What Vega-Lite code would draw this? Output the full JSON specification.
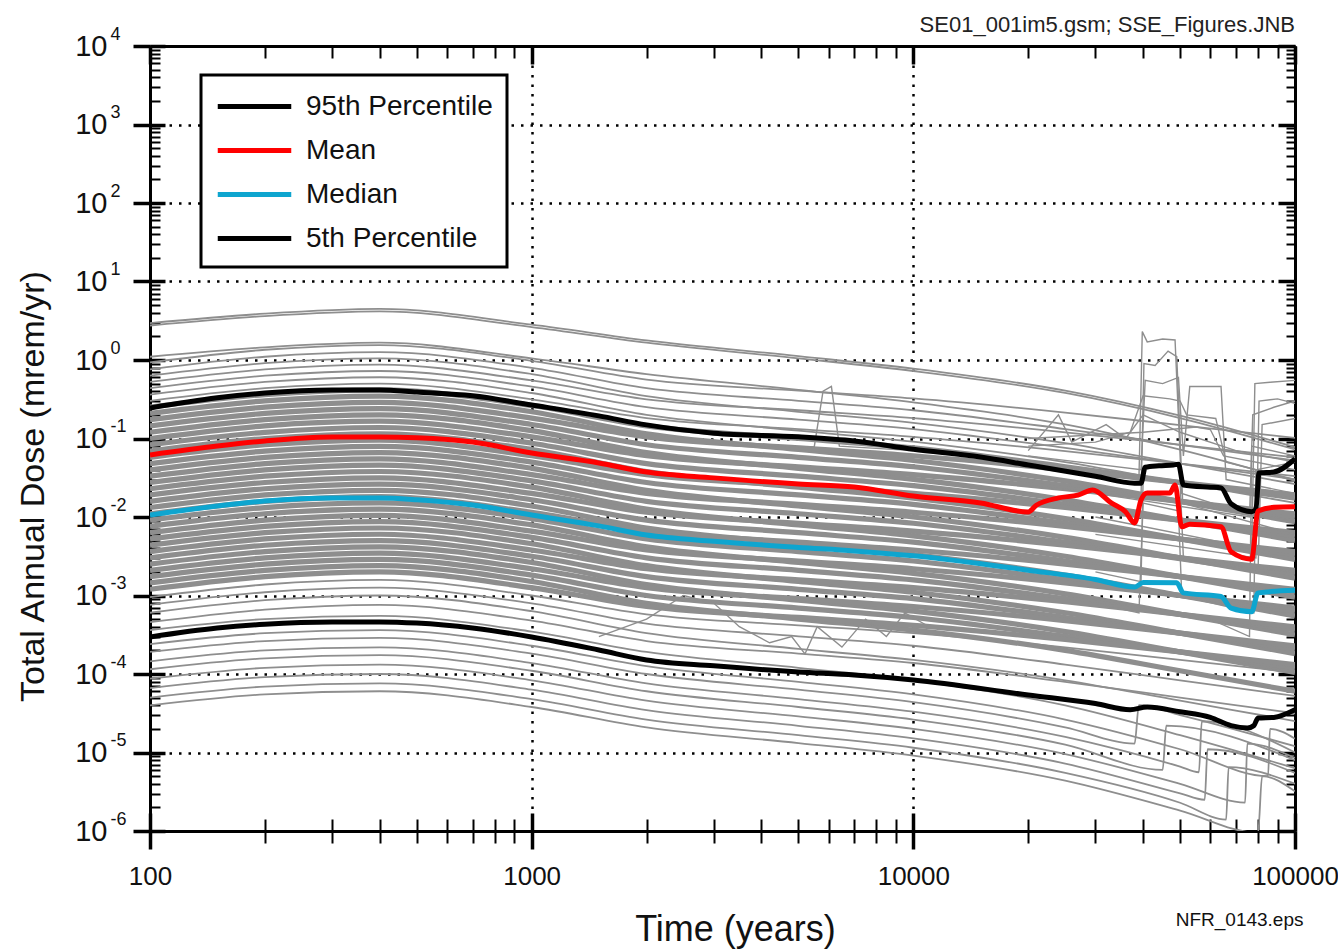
{
  "$schema": "https://vega.github.io/schema/vega-lite/v6.json",
  "autosize": {"type": "none"},
  "width": 1145,
  "height": 785,
  "padding": {"left": 150, "top": 46, "right": 43, "bottom": 120},
  "background": "white",
  "title": {"text": "SE01_001im5.gsm; SSE_Figures.JNB", "anchor": "end", "frame": "group", "fontSize": 22, "font": "Liberation Sans", "fontWeight": "normal", "color": "#222222", "offset": -29, "baseline": "alphabetic"},
  "config": {
    "view": {"stroke": null},
    "legend": {"strokeWidth": 3},
    "axis": {"labelFont": "Liberation Sans", "titleFont": "Liberation Sans", "zindex": 1, "domainColor": "black", "tickColor": "black", "labelColor": "#111111", "titleColor": "#111111", "titleFontWeight": "normal", "labelOverlap": false, "labelFlush": false}
  },
  "datasets": {
    "gray": [
      {"run":"g1","t":100,"dose":2.95},{"run":"g1","t":200,"dose":3.89},{"run":"g1","t":400,"dose":4.47},{"run":"g1","t":1000,"dose":2.82},{"run":"g1","t":2000,"dose":1.78},{"run":"g1","t":5000,"dose":1.12},{"run":"g1","t":10000,"dose":0.776},{"run":"g1","t":25000,"dose":0.407},{"run":"g1","t":50000,"dose":0.195},{"run":"g1","t":100000,"dose":0.0776},
      {"run":"g2","t":100,"dose":2.75},{"run":"g2","t":200,"dose":3.63},{"run":"g2","t":400,"dose":4.17},{"run":"g2","t":1000,"dose":2.63},{"run":"g2","t":2000,"dose":1.66},{"run":"g2","t":5000,"dose":1.05},{"run":"g2","t":10000,"dose":0.724},{"run":"g2","t":25000,"dose":0.38},{"run":"g2","t":50000,"dose":0.182},{"run":"g2","t":100000,"dose":0.0724},
      {"run":"g3","t":100,"dose":1.10},{"run":"g3","t":200,"dose":1.45},{"run":"g3","t":400,"dose":1.66},{"run":"g3","t":1000,"dose":1.05},{"run":"g3","t":2000,"dose":0.661},{"run":"g3","t":5000,"dose":0.417},{"run":"g3","t":10000,"dose":0.288},{"run":"g3","t":25000,"dose":0.151},{"run":"g3","t":50000,"dose":0.0724},{"run":"g3","t":100000,"dose":0.0288},
      {"run":"g4","t":100,"dose":0.933},{"run":"g4","t":200,"dose":1.35},{"run":"g4","t":400,"dose":1.55},{"run":"g4","t":1000,"dose":0.977},{"run":"g4","t":2000,"dose":0.562},{"run":"g4","t":5000,"dose":0.407},{"run":"g4","t":10000,"dose":0.324},{"run":"g4","t":25000,"dose":0.214},{"run":"g4","t":50000,"dose":0.148},{"run":"g4","t":100000,"dose":0.102},
      {"run":"d1","t":100,"dose":0.759},{"run":"d1","t":200,"dose":1.10},{"run":"d1","t":400,"dose":1.26},{"run":"d1","t":1000,"dose":0.794},{"run":"d1","t":2000,"dose":0.437},{"run":"d1","t":5000,"dose":0.302},{"run":"d1","t":10000,"dose":0.229},{"run":"d1","t":25000,"dose":0.132},{"run":"d1","t":50000,"dose":0.0832},{"run":"d1","t":100000,"dose":0.0525},
      {"run":"d2","t":100,"dose":0.631},{"run":"d2","t":200,"dose":0.912},{"run":"d2","t":400,"dose":1.05},{"run":"d2","t":1000,"dose":0.661},{"run":"d2","t":2000,"dose":0.347},{"run":"d2","t":5000,"dose":0.219},{"run":"d2","t":10000,"dose":0.158},{"run":"d2","t":25000,"dose":0.0871},{"run":"d2","t":50000,"dose":0.0479},{"run":"d2","t":100000,"dose":0.0263},
      {"run":"d3","t":100,"dose":0.525},{"run":"d3","t":200,"dose":0.759},{"run":"d3","t":400,"dose":0.871},{"run":"d3","t":1000,"dose":0.550},{"run":"d3","t":2000,"dose":0.316},{"run":"d3","t":5000,"dose":0.229},{"run":"d3","t":10000,"dose":0.182},{"run":"d3","t":25000,"dose":0.120},{"run":"d3","t":50000,"dose":0.0832},{"run":"d3","t":100000,"dose":0.0575},
      {"run":"d4","t":100,"dose":0.437},{"run":"d4","t":200,"dose":0.631},{"run":"d4","t":400,"dose":0.724},{"run":"d4","t":1000,"dose":0.457},{"run":"d4","t":2000,"dose":0.251},{"run":"d4","t":5000,"dose":0.174},{"run":"d4","t":10000,"dose":0.132},{"run":"d4","t":25000,"dose":0.0759},{"run":"d4","t":50000,"dose":0.0479},{"run":"d4","t":100000,"dose":0.0302},
      {"run":"d5","t":100,"dose":0.363},{"run":"d5","t":200,"dose":0.525},{"run":"d5","t":400,"dose":0.603},{"run":"d5","t":1000,"dose":0.380},{"run":"d5","t":2000,"dose":0.200},{"run":"d5","t":5000,"dose":0.126},{"run":"d5","t":10000,"dose":0.0912},{"run":"d5","t":25000,"dose":0.0501},{"run":"d5","t":50000,"dose":0.0275},{"run":"d5","t":100000,"dose":0.0151},
      {"run":"d6","t":100,"dose":0.302},{"run":"d6","t":200,"dose":0.437},{"run":"d6","t":400,"dose":0.501},{"run":"d6","t":1000,"dose":0.316},{"run":"d6","t":2000,"dose":0.182},{"run":"d6","t":5000,"dose":0.132},{"run":"d6","t":10000,"dose":0.105},{"run":"d6","t":25000,"dose":0.0692},{"run":"d6","t":50000,"dose":0.0479},{"run":"d6","t":100000,"dose":0.0331},
      {"run":"d7","t":100,"dose":0.251},{"run":"d7","t":200,"dose":0.363},{"run":"d7","t":400,"dose":0.417},{"run":"d7","t":1000,"dose":0.263},{"run":"d7","t":2000,"dose":0.145},{"run":"d7","t":5000,"dose":0.100},{"run":"d7","t":10000,"dose":0.0759},{"run":"d7","t":25000,"dose":0.0437},{"run":"d7","t":50000,"dose":0.0275},{"run":"d7","t":100000,"dose":0.0174},
      {"run":"d8","t":100,"dose":0.209},{"run":"d8","t":200,"dose":0.302},{"run":"d8","t":400,"dose":0.347},{"run":"d8","t":1000,"dose":0.219},{"run":"d8","t":2000,"dose":0.115},{"run":"d8","t":5000,"dose":0.0724},{"run":"d8","t":10000,"dose":0.0525},{"run":"d8","t":25000,"dose":0.0288},{"run":"d8","t":50000,"dose":0.0158},{"run":"d8","t":100000,"dose":0.00871},
      {"run":"d9","t":100,"dose":0.174},{"run":"d9","t":200,"dose":0.251},{"run":"d9","t":400,"dose":0.288},{"run":"d9","t":1000,"dose":0.182},{"run":"d9","t":2000,"dose":0.105},{"run":"d9","t":5000,"dose":0.0759},{"run":"d9","t":10000,"dose":0.0603},{"run":"d9","t":25000,"dose":0.0398},{"run":"d9","t":50000,"dose":0.0275},{"run":"d9","t":100000,"dose":0.0191},
      {"run":"d10","t":100,"dose":0.145},{"run":"d10","t":200,"dose":0.209},{"run":"d10","t":400,"dose":0.240},{"run":"d10","t":1000,"dose":0.151},{"run":"d10","t":2000,"dose":0.0832},{"run":"d10","t":5000,"dose":0.0575},{"run":"d10","t":10000,"dose":0.0437},{"run":"d10","t":25000,"dose":0.0251},{"run":"d10","t":50000,"dose":0.0158},{"run":"d10","t":100000,"dose":0.0100},
      {"run":"d11","t":100,"dose":0.120},{"run":"d11","t":200,"dose":0.174},{"run":"d11","t":400,"dose":0.200},{"run":"d11","t":1000,"dose":0.126},{"run":"d11","t":2000,"dose":0.0661},{"run":"d11","t":5000,"dose":0.0417},{"run":"d11","t":10000,"dose":0.0302},{"run":"d11","t":25000,"dose":0.0166},{"run":"d11","t":50000,"dose":0.00912},{"run":"d11","t":100000,"dose":0.00501},
      {"run":"d12","t":100,"dose":0.100},{"run":"d12","t":200,"dose":0.145},{"run":"d12","t":400,"dose":0.166},{"run":"d12","t":1000,"dose":0.105},{"run":"d12","t":2000,"dose":0.0603},{"run":"d12","t":5000,"dose":0.0437},{"run":"d12","t":10000,"dose":0.0347},{"run":"d12","t":25000,"dose":0.0229},{"run":"d12","t":50000,"dose":0.0158},{"run":"d12","t":100000,"dose":0.0110},
      {"run":"d13","t":100,"dose":0.0832},{"run":"d13","t":200,"dose":0.120},{"run":"d13","t":400,"dose":0.138},{"run":"d13","t":1000,"dose":0.0871},{"run":"d13","t":2000,"dose":0.0479},{"run":"d13","t":5000,"dose":0.0331},{"run":"d13","t":10000,"dose":0.0251},{"run":"d13","t":25000,"dose":0.0145},{"run":"d13","t":50000,"dose":0.00912},{"run":"d13","t":100000,"dose":0.00575},
      {"run":"d14","t":100,"dose":0.0692},{"run":"d14","t":200,"dose":0.100},{"run":"d14","t":400,"dose":0.115},{"run":"d14","t":1000,"dose":0.0724},{"run":"d14","t":2000,"dose":0.0380},{"run":"d14","t":5000,"dose":0.0240},{"run":"d14","t":10000,"dose":0.0174},{"run":"d14","t":25000,"dose":0.00955},{"run":"d14","t":50000,"dose":0.00525},{"run":"d14","t":100000,"dose":0.00288},
      {"run":"d15","t":100,"dose":0.0575},{"run":"d15","t":200,"dose":0.0832},{"run":"d15","t":400,"dose":0.0955},{"run":"d15","t":1000,"dose":0.0603},{"run":"d15","t":2000,"dose":0.0347},{"run":"d15","t":5000,"dose":0.0251},{"run":"d15","t":10000,"dose":0.0200},{"run":"d15","t":25000,"dose":0.0132},{"run":"d15","t":50000,"dose":0.00912},{"run":"d15","t":100000,"dose":0.00631},
      {"run":"d16","t":100,"dose":0.0479},{"run":"d16","t":200,"dose":0.0692},{"run":"d16","t":400,"dose":0.0794},{"run":"d16","t":1000,"dose":0.0501},{"run":"d16","t":2000,"dose":0.0275},{"run":"d16","t":5000,"dose":0.0191},{"run":"d16","t":10000,"dose":0.0145},{"run":"d16","t":25000,"dose":0.00832},{"run":"d16","t":50000,"dose":0.00525},{"run":"d16","t":100000,"dose":0.00331},
      {"run":"d17","t":100,"dose":0.0398},{"run":"d17","t":200,"dose":0.0575},{"run":"d17","t":400,"dose":0.0661},{"run":"d17","t":1000,"dose":0.0417},{"run":"d17","t":2000,"dose":0.0219},{"run":"d17","t":5000,"dose":0.0138},{"run":"d17","t":10000,"dose":0.0100},{"run":"d17","t":25000,"dose":0.00550},{"run":"d17","t":50000,"dose":0.00302},{"run":"d17","t":100000,"dose":0.00166},
      {"run":"d18","t":100,"dose":0.0331},{"run":"d18","t":200,"dose":0.0479},{"run":"d18","t":400,"dose":0.0550},{"run":"d18","t":1000,"dose":0.0347},{"run":"d18","t":2000,"dose":0.0200},{"run":"d18","t":5000,"dose":0.0145},{"run":"d18","t":10000,"dose":0.0115},{"run":"d18","t":25000,"dose":0.00759},{"run":"d18","t":50000,"dose":0.00525},{"run":"d18","t":100000,"dose":0.00363},
      {"run":"d19","t":100,"dose":0.0275},{"run":"d19","t":200,"dose":0.0398},{"run":"d19","t":400,"dose":0.0457},{"run":"d19","t":1000,"dose":0.0288},{"run":"d19","t":2000,"dose":0.0158},{"run":"d19","t":5000,"dose":0.0110},{"run":"d19","t":10000,"dose":0.00832},{"run":"d19","t":25000,"dose":0.00479},{"run":"d19","t":50000,"dose":0.00302},{"run":"d19","t":100000,"dose":0.00191},
      {"run":"d20","t":100,"dose":0.0229},{"run":"d20","t":200,"dose":0.0331},{"run":"d20","t":400,"dose":0.0380},{"run":"d20","t":1000,"dose":0.0240},{"run":"d20","t":2000,"dose":0.0126},{"run":"d20","t":5000,"dose":0.00794},{"run":"d20","t":10000,"dose":0.00575},{"run":"d20","t":25000,"dose":0.00316},{"run":"d20","t":50000,"dose":0.00174},{"run":"d20","t":100000,"dose":0.000955},
      {"run":"d21","t":100,"dose":0.0191},{"run":"d21","t":200,"dose":0.0275},{"run":"d21","t":400,"dose":0.0316},{"run":"d21","t":1000,"dose":0.0200},{"run":"d21","t":2000,"dose":0.0115},{"run":"d21","t":5000,"dose":0.00832},{"run":"d21","t":10000,"dose":0.00661},{"run":"d21","t":25000,"dose":0.00437},{"run":"d21","t":50000,"dose":0.00302},{"run":"d21","t":100000,"dose":0.00209},
      {"run":"d22","t":100,"dose":0.0158},{"run":"d22","t":200,"dose":0.0229},{"run":"d22","t":400,"dose":0.0263},{"run":"d22","t":1000,"dose":0.0166},{"run":"d22","t":2000,"dose":0.00912},{"run":"d22","t":5000,"dose":0.00631},{"run":"d22","t":10000,"dose":0.00479},{"run":"d22","t":25000,"dose":0.00275},{"run":"d22","t":50000,"dose":0.00174},{"run":"d22","t":100000,"dose":0.00110},
      {"run":"d23","t":100,"dose":0.0132},{"run":"d23","t":200,"dose":0.0191},{"run":"d23","t":400,"dose":0.0219},{"run":"d23","t":1000,"dose":0.0138},{"run":"d23","t":2000,"dose":0.00724},{"run":"d23","t":5000,"dose":0.00457},{"run":"d23","t":10000,"dose":0.00331},{"run":"d23","t":25000,"dose":0.00182},{"run":"d23","t":50000,"dose":0.00100},{"run":"d23","t":100000,"dose":0.000550},
      {"run":"d24","t":100,"dose":0.0110},{"run":"d24","t":200,"dose":0.0158},{"run":"d24","t":400,"dose":0.0182},{"run":"d24","t":1000,"dose":0.0115},{"run":"d24","t":2000,"dose":0.00661},{"run":"d24","t":5000,"dose":0.00479},{"run":"d24","t":10000,"dose":0.00380},{"run":"d24","t":25000,"dose":0.00251},{"run":"d24","t":50000,"dose":0.00174},{"run":"d24","t":100000,"dose":0.00120},
      {"run":"d25","t":100,"dose":0.00912},{"run":"d25","t":200,"dose":0.0132},{"run":"d25","t":400,"dose":0.0151},{"run":"d25","t":1000,"dose":0.00955},{"run":"d25","t":2000,"dose":0.00525},{"run":"d25","t":5000,"dose":0.00363},{"run":"d25","t":10000,"dose":0.00275},{"run":"d25","t":25000,"dose":0.00158},{"run":"d25","t":50000,"dose":0.00100},{"run":"d25","t":100000,"dose":0.000631},
      {"run":"d26","t":100,"dose":0.00759},{"run":"d26","t":200,"dose":0.0110},{"run":"d26","t":400,"dose":0.0126},{"run":"d26","t":1000,"dose":0.00794},{"run":"d26","t":2000,"dose":0.00417},{"run":"d26","t":5000,"dose":0.00263},{"run":"d26","t":10000,"dose":0.00191},{"run":"d26","t":25000,"dose":0.00105},{"run":"d26","t":50000,"dose":0.000575},{"run":"d26","t":100000,"dose":0.000316},
      {"run":"d27","t":100,"dose":0.00631},{"run":"d27","t":200,"dose":0.00912},{"run":"d27","t":400,"dose":0.0105},{"run":"d27","t":1000,"dose":0.00661},{"run":"d27","t":2000,"dose":0.00380},{"run":"d27","t":5000,"dose":0.00275},{"run":"d27","t":10000,"dose":0.00219},{"run":"d27","t":25000,"dose":0.00145},{"run":"d27","t":50000,"dose":0.00100},{"run":"d27","t":100000,"dose":0.000692},
      {"run":"d28","t":100,"dose":0.00525},{"run":"d28","t":200,"dose":0.00759},{"run":"d28","t":400,"dose":0.00871},{"run":"d28","t":1000,"dose":0.00550},{"run":"d28","t":2000,"dose":0.00302},{"run":"d28","t":5000,"dose":0.00209},{"run":"d28","t":10000,"dose":0.00158},{"run":"d28","t":25000,"dose":0.000912},{"run":"d28","t":50000,"dose":0.000575},{"run":"d28","t":100000,"dose":0.000363},
      {"run":"d29","t":100,"dose":0.00437},{"run":"d29","t":200,"dose":0.00631},{"run":"d29","t":400,"dose":0.00724},{"run":"d29","t":1000,"dose":0.00457},{"run":"d29","t":2000,"dose":0.00240},{"run":"d29","t":5000,"dose":0.00151},{"run":"d29","t":10000,"dose":0.00110},{"run":"d29","t":25000,"dose":0.000603},{"run":"d29","t":50000,"dose":0.000331},{"run":"d29","t":100000,"dose":0.000182},
      {"run":"d30","t":100,"dose":0.00363},{"run":"d30","t":200,"dose":0.00525},{"run":"d30","t":400,"dose":0.00603},{"run":"d30","t":1000,"dose":0.00380},{"run":"d30","t":2000,"dose":0.00219},{"run":"d30","t":5000,"dose":0.00158},{"run":"d30","t":10000,"dose":0.00126},{"run":"d30","t":25000,"dose":0.000832},{"run":"d30","t":50000,"dose":0.000575},{"run":"d30","t":100000,"dose":0.000398},
      {"run":"d31","t":100,"dose":0.00302},{"run":"d31","t":200,"dose":0.00437},{"run":"d31","t":400,"dose":0.00501},{"run":"d31","t":1000,"dose":0.00316},{"run":"d31","t":2000,"dose":0.00174},{"run":"d31","t":5000,"dose":0.00120},{"run":"d31","t":10000,"dose":0.000912},{"run":"d31","t":25000,"dose":0.000525},{"run":"d31","t":50000,"dose":0.000331},{"run":"d31","t":100000,"dose":0.000209},
      {"run":"d32","t":100,"dose":0.00251},{"run":"d32","t":200,"dose":0.00363},{"run":"d32","t":400,"dose":0.00417},{"run":"d32","t":1000,"dose":0.00263},{"run":"d32","t":2000,"dose":0.00138},{"run":"d32","t":5000,"dose":0.000871},{"run":"d32","t":10000,"dose":0.000631},{"run":"d32","t":25000,"dose":0.000347},{"run":"d32","t":50000,"dose":0.000191},{"run":"d32","t":100000,"dose":0.000105},
      {"run":"d33","t":100,"dose":0.00209},{"run":"d33","t":200,"dose":0.00302},{"run":"d33","t":400,"dose":0.00347},{"run":"d33","t":1000,"dose":0.00219},{"run":"d33","t":2000,"dose":0.00126},{"run":"d33","t":5000,"dose":0.000912},{"run":"d33","t":10000,"dose":0.000724},{"run":"d33","t":25000,"dose":0.000479},{"run":"d33","t":50000,"dose":0.000331},{"run":"d33","t":100000,"dose":0.000229},
      {"run":"d34","t":100,"dose":0.00174},{"run":"d34","t":200,"dose":0.00251},{"run":"d34","t":400,"dose":0.00288},{"run":"d34","t":1000,"dose":0.00182},{"run":"d34","t":2000,"dose":0.00100},{"run":"d34","t":5000,"dose":0.000692},{"run":"d34","t":10000,"dose":0.000525},{"run":"d34","t":25000,"dose":0.000302},{"run":"d34","t":50000,"dose":0.000191},{"run":"d34","t":100000,"dose":0.000120},
      {"run":"d35","t":100,"dose":0.00145},{"run":"d35","t":200,"dose":0.00209},{"run":"d35","t":400,"dose":0.00240},{"run":"d35","t":1000,"dose":0.00151},{"run":"d35","t":2000,"dose":0.000794},{"run":"d35","t":5000,"dose":0.000501},{"run":"d35","t":10000,"dose":0.000363},{"run":"d35","t":25000,"dose":0.000200},{"run":"d35","t":50000,"dose":0.000110},{"run":"d35","t":100000,"dose":0.0000603},
      {"run":"d36","t":100,"dose":0.00120},{"run":"d36","t":200,"dose":0.00174},{"run":"d36","t":400,"dose":0.00200},{"run":"d36","t":1000,"dose":0.00126},{"run":"d36","t":2000,"dose":0.000724},{"run":"d36","t":5000,"dose":0.000525},{"run":"d36","t":10000,"dose":0.000417},{"run":"d36","t":25000,"dose":0.000275},{"run":"d36","t":50000,"dose":0.000191},{"run":"d36","t":100000,"dose":0.000132},
      {"run":"l1","t":100,"dose":9.55e-4},{"run":"l1","t":200,"dose":1.38e-3},{"run":"l1","t":400,"dose":1.58e-3},{"run":"l1","t":1000,"dose":1.00e-3},{"run":"l1","t":2000,"dose":5.75e-4},{"run":"l1","t":5000,"dose":4.17e-4},{"run":"l1","t":10000,"dose":3.31e-4},{"run":"l1","t":25000,"dose":2.19e-4},{"run":"l1","t":50000,"dose":1.51e-4},{"run":"l1","t":100000,"dose":1.05e-4},
      {"run":"l2","t":100,"dose":7.59e-4},{"run":"l2","t":200,"dose":1.10e-3},{"run":"l2","t":400,"dose":1.26e-3},{"run":"l2","t":1000,"dose":7.94e-4},{"run":"l2","t":2000,"dose":4.37e-4},{"run":"l2","t":5000,"dose":3.02e-4},{"run":"l2","t":10000,"dose":2.29e-4},{"run":"l2","t":25000,"dose":1.32e-4},{"run":"l2","t":50000,"dose":8.32e-5},{"run":"l2","t":100000,"dose":5.25e-5},
      {"run":"l3","t":100,"dose":6.03e-4},{"run":"l3","t":200,"dose":8.71e-4},{"run":"l3","t":400,"dose":1.00e-3},{"run":"l3","t":1000,"dose":6.31e-4},{"run":"l3","t":2000,"dose":3.31e-4},{"run":"l3","t":5000,"dose":2.09e-4},{"run":"l3","t":10000,"dose":1.51e-4},{"run":"l3","t":25000,"dose":8.32e-5},{"run":"l3","t":50000,"dose":4.57e-5},{"run":"l3","t":100000,"dose":2.51e-5},
      {"run":"l4","t":100,"dose":4.57e-4},{"run":"l4","t":200,"dose":6.61e-4},{"run":"l4","t":400,"dose":7.59e-4},{"run":"l4","t":1000,"dose":4.79e-4},{"run":"l4","t":2000,"dose":2.63e-4},{"run":"l4","t":5000,"dose":1.82e-4},{"run":"l4","t":10000,"dose":1.38e-4},{"run":"l4","t":25000,"dose":7.94e-5},{"run":"l4","t":50000,"dose":5.01e-5},{"run":"l4","t":100000,"dose":3.16e-5},
      {"run":"l5","t":100,"dose":3.63e-4},{"run":"l5","t":200,"dose":5.01e-4},{"run":"l5","t":400,"dose":5.50e-4},{"run":"l5","t":1000,"dose":3.47e-4},{"run":"l5","t":2000,"dose":1.91e-4},{"run":"l5","t":5000,"dose":1.20e-4},{"run":"l5","t":10000,"dose":8.32e-5},{"run":"l5","t":25000,"dose":3.98e-5},{"run":"l5","t":50000,"dose":1.66e-5},{"run":"l5","t":100000,"dose":6.31e-6},
      {"run":"l6","t":100,"dose":2.40e-4},{"run":"l6","t":200,"dose":3.31e-4},{"run":"l6","t":400,"dose":3.63e-4},{"run":"l6","t":1000,"dose":2.29e-4},{"run":"l6","t":2000,"dose":1.26e-4},{"run":"l6","t":5000,"dose":7.94e-5},{"run":"l6","t":10000,"dose":5.50e-5},{"run":"l6","t":25000,"dose":2.63e-5},{"run":"l6","t":50000,"dose":1.10e-5},{"run":"l6","t":85000,"dose":5.0e-6},{"run":"l6","t":86000,"dose":2.0e-5},{"run":"l6","t":100000,"dose":1.5e-5},
      {"run":"l7","t":100,"dose":1.91e-4},{"run":"l7","t":200,"dose":2.63e-4},{"run":"l7","t":400,"dose":2.88e-4},{"run":"l7","t":1000,"dose":1.82e-4},{"run":"l7","t":2000,"dose":1.00e-4},{"run":"l7","t":5000,"dose":6.31e-5},{"run":"l7","t":10000,"dose":4.37e-5},{"run":"l7","t":25000,"dose":2.09e-5},{"run":"l7","t":38000,"dose":1.3e-5},{"run":"l7","t":39000,"dose":4.0e-5},{"run":"l7","t":50000,"dose":3.0e-5},{"run":"l7","t":100000,"dose":1.2e-5},
      {"run":"l8","t":100,"dose":1.45e-4},{"run":"l8","t":200,"dose":2.00e-4},{"run":"l8","t":400,"dose":2.19e-4},{"run":"l8","t":1000,"dose":1.38e-4},{"run":"l8","t":2000,"dose":7.59e-5},{"run":"l8","t":5000,"dose":4.79e-5},{"run":"l8","t":10000,"dose":3.31e-5},{"run":"l8","t":25000,"dose":1.58e-5},{"run":"l8","t":50000,"dose":6.61e-6},{"run":"l8","t":56000,"dose":5.6e-6},{"run":"l8","t":57000,"dose":2.5e-5},{"run":"l8","t":100000,"dose":1.0e-5},
      {"run":"l9","t":100,"dose":1.15e-4},{"run":"l9","t":200,"dose":1.58e-4},{"run":"l9","t":400,"dose":1.74e-4},{"run":"l9","t":1000,"dose":1.10e-4},{"run":"l9","t":2000,"dose":6.03e-5},{"run":"l9","t":5000,"dose":3.80e-5},{"run":"l9","t":10000,"dose":2.63e-5},{"run":"l9","t":25000,"dose":1.26e-5},{"run":"l9","t":45000,"dose":6.0e-6},{"run":"l9","t":46000,"dose":2.2e-5},{"run":"l9","t":100000,"dose":8.0e-6},
      {"run":"l10","t":100,"dose":8.71e-5},{"run":"l10","t":200,"dose":1.20e-4},{"run":"l10","t":400,"dose":1.32e-4},{"run":"l10","t":1000,"dose":8.32e-5},{"run":"l10","t":2000,"dose":4.57e-5},{"run":"l10","t":5000,"dose":2.88e-5},{"run":"l10","t":10000,"dose":2.00e-5},{"run":"l10","t":25000,"dose":9.55e-6},{"run":"l10","t":50000,"dose":3.98e-6},{"run":"l10","t":74000,"dose":2.3e-6},{"run":"l10","t":75000,"dose":1.3e-5},{"run":"l10","t":100000,"dose":8.5e-6},
      {"run":"l11","t":100,"dose":6.61e-5},{"run":"l11","t":200,"dose":9.12e-5},{"run":"l11","t":400,"dose":1.00e-4},{"run":"l11","t":1000,"dose":6.31e-5},{"run":"l11","t":2000,"dose":3.47e-5},{"run":"l11","t":5000,"dose":2.19e-5},{"run":"l11","t":10000,"dose":1.51e-5},{"run":"l11","t":25000,"dose":7.24e-6},{"run":"l11","t":50000,"dose":3.02e-6},{"run":"l11","t":58000,"dose":2.5e-6},{"run":"l11","t":59000,"dose":1.1e-5},{"run":"l11","t":100000,"dose":5.5e-6},
      {"run":"l12","t":100,"dose":5.01e-5},{"run":"l12","t":200,"dose":6.92e-5},{"run":"l12","t":400,"dose":7.59e-5},{"run":"l12","t":1000,"dose":4.79e-5},{"run":"l12","t":2000,"dose":2.63e-5},{"run":"l12","t":5000,"dose":1.66e-5},{"run":"l12","t":10000,"dose":1.15e-5},{"run":"l12","t":25000,"dose":5.50e-6},{"run":"l12","t":50000,"dose":2.29e-6},{"run":"l12","t":66000,"dose":1.4e-6},{"run":"l12","t":67000,"dose":6.5e-6},{"run":"l12","t":100000,"dose":4.0e-6},
      {"run":"l13","t":100,"dose":3.98e-5},{"run":"l13","t":200,"dose":5.50e-5},{"run":"l13","t":400,"dose":6.03e-5},{"run":"l13","t":1000,"dose":3.80e-5},{"run":"l13","t":2000,"dose":2.09e-5},{"run":"l13","t":5000,"dose":1.32e-5},{"run":"l13","t":10000,"dose":9.12e-6},{"run":"l13","t":25000,"dose":4.37e-6},{"run":"l13","t":50000,"dose":1.82e-6},{"run":"l13","t":80000,"dose":9.5e-7},{"run":"l13","t":82000,"dose":5.0e-6},{"run":"l13","t":100000,"dose":3.2e-6}
    ],
    "spiky": [
      {"run":"s1","t":20000,"dose":0.045},{"run":"s1","t":39000,"dose":0.03},{"run":"s1","t":39800,"dose":2.3},{"run":"s1","t":41000,"dose":1.7},{"run":"s1","t":45000,"dose":1.85},{"run":"s1","t":48500,"dose":1.8},{"run":"s1","t":50500,"dose":0.02},{"run":"s1","t":70000,"dose":0.012},{"run":"s1","t":100000,"dose":0.009},
      {"run":"s2","t":20000,"dose":0.025},{"run":"s2","t":39500,"dose":0.018},{"run":"s2","t":40200,"dose":0.9},{"run":"s2","t":43000,"dose":0.85},{"run":"s2","t":46500,"dose":1.3},{"run":"s2","t":49000,"dose":1.1},{"run":"s2","t":50800,"dose":0.015},{"run":"s2","t":100000,"dose":0.006},
      {"run":"s3","t":20000,"dose":0.06},{"run":"s3","t":39500,"dose":0.04},{"run":"s3","t":40500,"dose":0.55},{"run":"s3","t":45000,"dose":0.5},{"run":"s3","t":49500,"dose":0.6},{"run":"s3","t":51000,"dose":0.06},{"run":"s3","t":53000,"dose":0.46},{"run":"s3","t":64000,"dose":0.46},{"run":"s3","t":66000,"dose":0.03},{"run":"s3","t":100000,"dose":0.02},
      {"run":"s4","t":20000,"dose":0.08},{"run":"s4","t":30000,"dose":0.09},{"run":"s4","t":37000,"dose":0.12},{"run":"s4","t":40000,"dose":0.35},{"run":"s4","t":47000,"dose":0.32},{"run":"s4","t":50000,"dose":0.3},{"run":"s4","t":52000,"dose":0.2},{"run":"s4","t":62000,"dose":0.18},{"run":"s4","t":66000,"dose":0.05},{"run":"s4","t":100000,"dose":0.03},
      {"run":"s5","t":30000,"dose":0.01},{"run":"s5","t":77000,"dose":0.004},{"run":"s5","t":78500,"dose":0.5},{"run":"s5","t":86000,"dose":0.52},{"run":"s5","t":100000,"dose":0.55},
      {"run":"s6","t":30000,"dose":0.006},{"run":"s6","t":79000,"dose":0.003},{"run":"s6","t":80500,"dose":0.3},{"run":"s6","t":90000,"dose":0.32},{"run":"s6","t":100000,"dose":0.28},
      {"run":"s7","t":30000,"dose":0.02},{"run":"s7","t":76000,"dose":0.01},{"run":"s7","t":77500,"dose":0.2},{"run":"s7","t":88000,"dose":0.25},{"run":"s7","t":100000,"dose":0.3},
      {"run":"s8","t":30000,"dose":0.004},{"run":"s8","t":80000,"dose":0.002},{"run":"s8","t":82000,"dose":0.15},{"run":"s8","t":100000,"dose":0.18},
      {"run":"s9","t":20000,"dose":0.1},{"run":"s9","t":40000,"dose":0.12},{"run":"s9","t":55000,"dose":0.14},{"run":"s9","t":60000,"dose":0.13},{"run":"s9","t":65000,"dose":0.06},{"run":"s9","t":100000,"dose":0.04},
      {"run":"s10","t":20000,"dose":0.07},{"run":"s10","t":24000,"dose":0.2},{"run":"s10","t":26000,"dose":0.09},{"run":"s10","t":32000,"dose":0.15},{"run":"s10","t":36000,"dose":0.1},{"run":"s10","t":40000,"dose":0.2},{"run":"s10","t":50000,"dose":0.12},{"run":"s10","t":70000,"dose":0.07},{"run":"s10","t":100000,"dose":0.05},
      {"run":"s11","t":3000,"dose":0.085},{"run":"s11","t":5500,"dose":0.078},{"run":"s11","t":5800,"dose":0.4},{"run":"s11","t":6100,"dose":0.46},{"run":"s11","t":6400,"dose":0.08},{"run":"s11","t":10000,"dose":0.07},
      {"run":"s12","t":1500,"dose":3e-4},{"run":"s12","t":2000,"dose":5e-4},{"run":"s12","t":2500,"dose":1.0e-3},{"run":"s12","t":3000,"dose":8e-4},{"run":"s12","t":3500,"dose":4e-4},{"run":"s12","t":4200,"dose":2.5e-4},{"run":"s12","t":4800,"dose":3e-4},{"run":"s12","t":5200,"dose":1.8e-4},{"run":"s12","t":5600,"dose":4e-4},{"run":"s12","t":6500,"dose":2.2e-4},{"run":"s12","t":7500,"dose":5e-4},{"run":"s12","t":8500,"dose":3e-4},{"run":"s12","t":9500,"dose":6e-4},{"run":"s12","t":11000,"dose":4e-4},
      {"run":"s13","t":30000,"dose":0.002},{"run":"s13","t":39500,"dose":0.0015},{"run":"s13","t":40000,"dose":0.03},{"run":"s13","t":50000,"dose":0.028},{"run":"s13","t":51000,"dose":0.003},{"run":"s13","t":100000,"dose":0.002},
      {"run":"s14","t":30000,"dose":0.0008},{"run":"s14","t":39000,"dose":0.0006},{"run":"s14","t":40000,"dose":0.015},{"run":"s14","t":49500,"dose":0.012},{"run":"s14","t":50500,"dose":0.001},{"run":"s14","t":100000,"dose":0.0007},
      {"run":"s15","t":60000,"dose":0.0005},{"run":"s15","t":76000,"dose":0.0003},{"run":"s15","t":77000,"dose":0.08},{"run":"s15","t":100000,"dose":0.06},
      {"run":"s16","t":50000,"dose":0.001},{"run":"s16","t":78000,"dose":0.0006},{"run":"s16","t":79000,"dose":0.04},{"run":"s16","t":100000,"dose":0.05}
    ],
    "stats": [
      {"series":"95th Percentile","t":100,"dose":0.245},{"series":"95th Percentile","t":150,"dose":0.33},{"series":"95th Percentile","t":200,"dose":0.38},{"series":"95th Percentile","t":300,"dose":0.415},{"series":"95th Percentile","t":400,"dose":0.415},{"series":"95th Percentile","t":500,"dose":0.39},{"series":"95th Percentile","t":700,"dose":0.35},{"series":"95th Percentile","t":1000,"dose":0.267},{"series":"95th Percentile","t":1500,"dose":0.194},{"series":"95th Percentile","t":2000,"dose":0.149},{"series":"95th Percentile","t":3000,"dose":0.117},{"series":"95th Percentile","t":5000,"dose":0.105},{"series":"95th Percentile","t":7000,"dose":0.093},{"series":"95th Percentile","t":10000,"dose":0.073},{"series":"95th Percentile","t":15000,"dose":0.058},{"series":"95th Percentile","t":20000,"dose":0.046},{"series":"95th Percentile","t":30000,"dose":0.033},{"series":"95th Percentile","t":38000,"dose":0.027},{"series":"95th Percentile","t":39500,"dose":0.027},{"series":"95th Percentile","t":40500,"dose":0.043},{"series":"95th Percentile","t":44000,"dose":0.045},{"series":"95th Percentile","t":48000,"dose":0.046},{"series":"95th Percentile","t":49500,"dose":0.047},{"series":"95th Percentile","t":51000,"dose":0.0256},{"series":"95th Percentile","t":60000,"dose":0.024},{"series":"95th Percentile","t":64000,"dose":0.0235},{"series":"95th Percentile","t":68000,"dose":0.0147},{"series":"95th Percentile","t":77000,"dose":0.0117},{"series":"95th Percentile","t":79000,"dose":0.0125},{"series":"95th Percentile","t":80500,"dose":0.0364},{"series":"95th Percentile","t":88000,"dose":0.0375},{"series":"95th Percentile","t":100000,"dose":0.055},
      {"series":"Mean","t":100,"dose":0.0617},{"series":"Mean","t":150,"dose":0.080},{"series":"Mean","t":200,"dose":0.093},{"series":"Mean","t":300,"dose":0.1045},{"series":"Mean","t":400,"dose":0.1045},{"series":"Mean","t":500,"dose":0.102},{"series":"Mean","t":700,"dose":0.090},{"series":"Mean","t":1000,"dose":0.0653},{"series":"Mean","t":1500,"dose":0.0488},{"series":"Mean","t":2000,"dose":0.0374},{"series":"Mean","t":3000,"dose":0.0315},{"series":"Mean","t":5000,"dose":0.0263},{"series":"Mean","t":7000,"dose":0.0241},{"series":"Mean","t":10000,"dose":0.0185},{"series":"Mean","t":15000,"dose":0.0151},{"series":"Mean","t":20000,"dose":0.0116},{"series":"Mean","t":21000,"dose":0.0141},{"series":"Mean","t":24000,"dose":0.0175},{"series":"Mean","t":27000,"dose":0.019},{"series":"Mean","t":29500,"dose":0.0221},{"series":"Mean","t":33000,"dose":0.0151},{"series":"Mean","t":36000,"dose":0.0116},{"series":"Mean","t":38000,"dose":0.0084},{"series":"Mean","t":39500,"dose":0.0165},{"series":"Mean","t":41000,"dose":0.0202},{"series":"Mean","t":47000,"dose":0.0202},{"series":"Mean","t":48500,"dose":0.0256},{"series":"Mean","t":50500,"dose":0.0075},{"series":"Mean","t":53000,"dose":0.0081},{"series":"Mean","t":64000,"dose":0.0075},{"series":"Mean","t":68000,"dose":0.0036},{"series":"Mean","t":77000,"dose":0.0029},{"series":"Mean","t":80000,"dose":0.0119},{"series":"Mean","t":88000,"dose":0.0133},{"series":"Mean","t":100000,"dose":0.0135},
      {"series":"Median","t":100,"dose":0.0106},{"series":"Median","t":150,"dose":0.0138},{"series":"Median","t":200,"dose":0.016},{"series":"Median","t":300,"dose":0.0175},{"series":"Median","t":400,"dose":0.0175},{"series":"Median","t":500,"dose":0.0166},{"series":"Median","t":700,"dose":0.0142},{"series":"Median","t":1000,"dose":0.0106},{"series":"Median","t":1500,"dose":0.0077},{"series":"Median","t":2000,"dose":0.0059},{"series":"Median","t":3000,"dose":0.0049},{"series":"Median","t":5000,"dose":0.0041},{"series":"Median","t":7000,"dose":0.0037},{"series":"Median","t":10000,"dose":0.0032},{"series":"Median","t":20000,"dose":0.0021},{"series":"Median","t":30000,"dose":0.0016},{"series":"Median","t":38000,"dose":0.00128},{"series":"Median","t":40000,"dose":0.00146},{"series":"Median","t":49000,"dose":0.00145},{"series":"Median","t":51000,"dose":0.00108},{"series":"Median","t":64000,"dose":0.00097},{"series":"Median","t":68000,"dose":0.00069},{"series":"Median","t":77000,"dose":0.00062},{"series":"Median","t":80000,"dose":0.00108},{"series":"Median","t":100000,"dose":0.00117},
      {"series":"5th Percentile","t":100,"dose":2.96e-4},{"series":"5th Percentile","t":150,"dose":3.85e-4},{"series":"5th Percentile","t":200,"dose":4.3e-4},{"series":"5th Percentile","t":300,"dose":4.6e-4},{"series":"5th Percentile","t":400,"dose":4.6e-4},{"series":"5th Percentile","t":500,"dose":4.45e-4},{"series":"5th Percentile","t":700,"dose":3.85e-4},{"series":"5th Percentile","t":1000,"dose":2.96e-4},{"series":"5th Percentile","t":1500,"dose":2.02e-4},{"series":"5th Percentile","t":2000,"dose":1.51e-4},{"series":"5th Percentile","t":3000,"dose":1.27e-4},{"series":"5th Percentile","t":5000,"dose":1.06e-4},{"series":"5th Percentile","t":7000,"dose":9.7e-5},{"series":"5th Percentile","t":10000,"dose":8.4e-5},{"series":"5th Percentile","t":20000,"dose":5.4e-5},{"series":"5th Percentile","t":30000,"dose":4.2e-5},{"series":"5th Percentile","t":37000,"dose":3.5e-5},{"series":"5th Percentile","t":41000,"dose":3.8e-5},{"series":"5th Percentile","t":50000,"dose":3.3e-5},{"series":"5th Percentile","t":60000,"dose":2.8e-5},{"series":"5th Percentile","t":68000,"dose":2.2e-5},{"series":"5th Percentile","t":75000,"dose":2.05e-5},{"series":"5th Percentile","t":78000,"dose":2.2e-5},{"series":"5th Percentile","t":80000,"dose":2.75e-5},{"series":"5th Percentile","t":88000,"dose":2.8e-5},{"series":"5th Percentile","t":100000,"dose":3.5e-5}
    ]
  },
  "resolve": {"axis": {"x": "independent", "y": "independent"}},
  "layer": [
    {
      "data": {"name": "gray"},
      "transform": [{"filter": {"field": "run", "oneOf": ["d7","d8","d9","d10","d11","d12","d13","d14","d15","d16","d17","d18","d19","d20","d21","d22","d23","d24","d25","d26","d27","d28","d29","d30","d31","d32","d33","d34","d35","d36"]}}],
      "mark": {"type": "line", "clip": true, "color": "#8e8e8e", "strokeWidth": 5.2, "interpolate": "monotone"},
      "encoding": {
        "detail": {"field": "run"},
        "x": {"field": "t", "type": "quantitative", "scale": {"type": "log", "domain": [100, 100000], "nice": false}, "axis": null},
        "y": {"field": "dose", "type": "quantitative", "scale": {"type": "log", "domain": [0.000001, 10000], "nice": false}, "axis": null}
      }
    },
    {
      "data": {"name": "gray"},
      "transform": [{"filter": {"not": {"field": "run", "oneOf": ["d7","d8","d9","d10","d11","d12","d13","d14","d15","d16","d17","d18","d19","d20","d21","d22","d23","d24","d25","d26","d27","d28","d29","d30","d31","d32","d33","d34","d35","d36"]}}}],
      "mark": {"type": "line", "clip": true, "color": "#8e8e8e", "strokeWidth": 1.8, "interpolate": "monotone"},
      "encoding": {
        "detail": {"field": "run"},
        "x": {"field": "t", "type": "quantitative", "scale": {"type": "log", "domain": [100, 100000], "nice": false},
          "axis": {"orient": "bottom", "values": [100,200,300,400,500,600,700,800,900,1000,2000,3000,4000,5000,6000,7000,8000,9000,10000,20000,30000,40000,50000,60000,70000,80000,90000,100000],
            "tickSize": {"condition": {"test": "abs(log(datum.value)/LN10 - round(log(datum.value)/LN10)) < 0.001", "value": 18}, "value": 12},
            "tickWidth": {"condition": {"test": "abs(log(datum.value)/LN10 - round(log(datum.value)/LN10)) < 0.001", "value": 3.5}, "value": 2},
            "labelExpr": "abs(log(datum.value)/LN10 - round(log(datum.value)/LN10)) < 0.001 ? format(datum.value, 'd') : ''",
            "labelFontSize": 26, "labelPadding": 14, "labelBaseline": "top",
            "grid": true, "gridOpacity": {"condition": {"test": "abs(log(datum.value)/LN10 - round(log(datum.value)/LN10)) < 0.001", "value": 1}, "value": 0},
            "gridDash": [2.5, 7], "gridWidth": 2.5, "gridColor": "black",
            "domain": true, "domainWidth": 3,
            "title": "Time (years)", "titleFontSize": 36, "titleX": 585, "titleY": 109, "titleAlign": "center", "titleBaseline": "alphabetic"}},
        "y": {"field": "dose", "type": "quantitative", "scale": {"type": "log", "domain": [0.000001, 10000], "nice": false},
          "axis": {"orient": "left", "values": [0.000001,0.00001,0.0001,0.001,0.01,0.1,1,10,100,1000,10000],
            "tickSize": 17, "tickWidth": 3.5, "labelExpr": "'10'", "labelFontSize": 29, "labelPadding": 26, "labelBaseline": "middle", "labelAlign": "right",
            "grid": true, "gridDash": [2.5, 7], "gridWidth": 2.5, "gridColor": "black",
            "domain": true, "domainWidth": 3,
            "title": "Total Annual Dose (mrem/yr)", "titleFontSize": 34, "titleAngle": 270, "titleX": -107, "titleY": 440, "titleAlign": "center", "titleBaseline": "alphabetic"}}
      }
    },
    {
      "data": {"name": "spiky"},
      "mark": {"type": "line", "clip": true, "color": "#8e8e8e", "strokeWidth": 1.4},
      "encoding": {
        "detail": {"field": "run"},
        "x": {"field": "t", "type": "quantitative", "scale": {"type": "log", "domain": [100, 100000], "nice": false},
          "axis": {"orient": "bottom", "values": [100,200,300,400,500,600,700,800,900,1000,2000,3000,4000,5000,6000,7000,8000,9000,10000,20000,30000,40000,50000,60000,70000,80000,90000,100000],
            "tickSize": {"condition": {"test": "abs(log(datum.value)/LN10 - round(log(datum.value)/LN10)) < 0.001", "value": -18}, "value": -12},
            "tickWidth": {"condition": {"test": "abs(log(datum.value)/LN10 - round(log(datum.value)/LN10)) < 0.001", "value": 3.5}, "value": 2},
            "labels": false, "domain": false, "grid": false,
            "title": "NFR_0143.eps", "titleFontSize": 19, "titleX": 1153, "titleY": 94, "titleAlign": "right", "titleBaseline": "alphabetic"}},
        "y": {"field": "dose", "type": "quantitative", "scale": {"type": "log", "domain": [0.000001, 10000], "nice": false},
          "axis": {"orient": "left", "values": [0.000001,0.00001,0.0001,0.001,0.01,0.1,1,10,100,1000,10000],
            "tickSize": 0, "tickOpacity": 0, "labelExpr": "'' + round(log(datum.value)/LN10)", "labelFontSize": 18, "labelAlign": "left", "labelPadding": 40, "labelOffset": -12, "labelBaseline": "middle",
            "domain": false, "grid": false, "title": null}}
      }
    },
    {
      "data": {"name": "stats"},
      "transform": [{"filter": {"field": "series", "oneOf": ["95th Percentile", "5th Percentile"]}}],
      "mark": {"type": "line", "clip": true, "strokeWidth": 5, "interpolate": "monotone"},
      "encoding": {
        "color": {"field": "series", "type": "nominal",
          "scale": {"domain": ["95th Percentile", "Mean", "Median", "5th Percentile"], "range": ["#000000", "#ff0000", "#0ea5cf", "#000000"]},
          "legend": {"title": null, "orient": "none", "legendX": 51, "legendY": 29, "symbolType": "M-2.45,0H2.45", "symbolSize": 900, "symbolStrokeWidth": 5, "labelFontSize": 28, "labelFont": "Liberation Sans", "labelColor": "#111111", "labelLimit": 400, "padding": 14, "rowPadding": 12, "strokeColor": "black", "fillColor": "white", "symbolOffset": 22, "labelOffset": 34, "zindex": 3}},
        "x": {"field": "t", "type": "quantitative", "scale": {"type": "log", "domain": [100, 100000], "nice": false},
          "axis": {"orient": "top", "values": [100,200,300,400,500,600,700,800,900,1000,2000,3000,4000,5000,6000,7000,8000,9000,10000,20000,30000,40000,50000,60000,70000,80000,90000,100000],
            "tickSize": {"condition": {"test": "abs(log(datum.value)/LN10 - round(log(datum.value)/LN10)) < 0.001", "value": -18}, "value": -12},
            "tickWidth": {"condition": {"test": "abs(log(datum.value)/LN10 - round(log(datum.value)/LN10)) < 0.001", "value": 3.5}, "value": 2},
            "labels": false, "domain": true, "domainWidth": 3, "grid": false, "title": null}},
        "y": {"field": "dose", "type": "quantitative", "scale": {"type": "log", "domain": [0.000001, 10000], "nice": false},
          "axis": {"orient": "left", "values": [1e-6,2e-6,3e-6,4e-6,5e-6,6e-6,7e-6,8e-6,9e-6,1e-5,2e-5,3e-5,4e-5,5e-5,6e-5,7e-5,8e-5,9e-5,1e-4,2e-4,3e-4,4e-4,5e-4,6e-4,7e-4,8e-4,9e-4,0.001,0.002,0.003,0.004,0.005,0.006,0.007,0.008,0.009,0.01,0.02,0.03,0.04,0.05,0.06,0.07,0.08,0.09,0.1,0.2,0.3,0.4,0.5,0.6,0.7,0.8,0.9,1,2,3,4,5,6,7,8,9,10,20,30,40,50,60,70,80,90,100,200,300,400,500,600,700,800,900,1000,2000,3000,4000,5000,6000,7000,8000,9000,10000],
            "tickSize": {"condition": {"test": "abs(log(datum.value)/LN10 - round(log(datum.value)/LN10)) < 0.001", "value": -15}, "value": -10},
            "tickWidth": {"condition": {"test": "abs(log(datum.value)/LN10 - round(log(datum.value)/LN10)) < 0.001", "value": 3.5}, "value": 2},
            "labels": false, "domain": false, "grid": false, "title": null}}
      }
    },
    {
      "data": {"name": "stats"},
      "transform": [{"filter": {"field": "series", "oneOf": ["Mean", "Median"]}}],
      "mark": {"type": "line", "clip": true, "strokeWidth": 5, "interpolate": "monotone"},
      "encoding": {
        "color": {"field": "series", "type": "nominal",
          "scale": {"domain": ["95th Percentile", "Mean", "Median", "5th Percentile"], "range": ["#000000", "#ff0000", "#0ea5cf", "#000000"]},
          "legend": {"title": null, "orient": "none", "legendX": 51, "legendY": 29, "symbolType": "M-2.45,0H2.45", "symbolSize": 900, "symbolStrokeWidth": 5, "labelFontSize": 28, "labelFont": "Liberation Sans", "labelColor": "#111111", "labelLimit": 400, "padding": 14, "rowPadding": 12, "strokeColor": "black", "fillColor": "white", "symbolOffset": 22, "labelOffset": 34, "zindex": 3}},
        "x": {"field": "t", "type": "quantitative", "scale": {"type": "log", "domain": [100, 100000], "nice": false}, "axis": null},
        "y": {"field": "dose", "type": "quantitative", "scale": {"type": "log", "domain": [0.000001, 10000], "nice": false},
          "axis": {"orient": "right", "values": [1e-6,2e-6,3e-6,4e-6,5e-6,6e-6,7e-6,8e-6,9e-6,1e-5,2e-5,3e-5,4e-5,5e-5,6e-5,7e-5,8e-5,9e-5,1e-4,2e-4,3e-4,4e-4,5e-4,6e-4,7e-4,8e-4,9e-4,0.001,0.002,0.003,0.004,0.005,0.006,0.007,0.008,0.009,0.01,0.02,0.03,0.04,0.05,0.06,0.07,0.08,0.09,0.1,0.2,0.3,0.4,0.5,0.6,0.7,0.8,0.9,1,2,3,4,5,6,7,8,9,10,20,30,40,50,60,70,80,90,100,200,300,400,500,600,700,800,900,1000,2000,3000,4000,5000,6000,7000,8000,9000,10000],
            "tickSize": {"condition": {"test": "abs(log(datum.value)/LN10 - round(log(datum.value)/LN10)) < 0.001", "value": -17}, "value": -9},
            "tickWidth": {"condition": {"test": "abs(log(datum.value)/LN10 - round(log(datum.value)/LN10)) < 0.001", "value": 3.5}, "value": 2},
            "labels": false, "domain": true, "domainWidth": 3, "grid": false, "title": null}}
      }
    }
  ]
}
